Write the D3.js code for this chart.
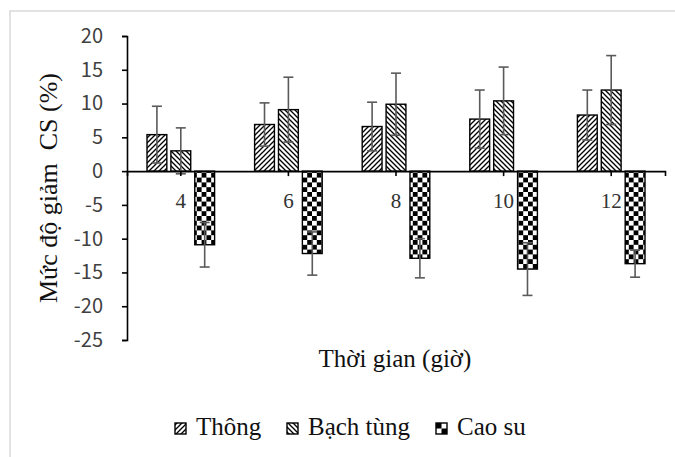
<!DOCTYPE html>
<html>
<head>
<meta charset="utf-8">
<script src="https://cdn.jsdelivr.net/npm/d3@7"></script>
<style>
  html, body { margin: 0; padding: 0; background: #fff; }
  svg { display: block; }
</style>
</head>
<body>
<svg id="chart" width="675" height="457"></svg>
<script>
// ---- data ----
const categories = ["4", "6", "8", "10", "12"];          // Thời gian (giờ)
const seriesNames = ["Thông", "Bạch tùng", "Cao su"];
const thong       = [5.4, 6.9, 6.6, 7.7, 8.3];
const thongErr    = [4.2, 3.2, 3.6, 4.3, 3.7];
const bachTung    = [3.0, 9.1, 9.9, 10.4, 12.0];
const bachTungErr = [3.4, 4.8, 4.6, 5.0, 5.1];
const caoSu       = [-10.9, -12.2, -12.9, -14.5, -13.7];
const caoSuErr    = [3.3, 3.2, 2.9, 3.9, 2.0];
const yTicks      = [-25, -20, -15, -10, -5, 0, 5, 10, 15, 20];

const values = [thong, bachTung, caoSu];
const errors = [thongErr, bachTungErr, caoSuErr];
const fills = ['url(#hatchUp)', 'url(#hatchDown)', 'url(#checker)'];

// rows: one per bar
const rows = [];
seriesNames.forEach((s, si) => {
  categories.forEach((c, ci) => {
    rows.push({ series: s, si: si, cat: c, value: values[si][ci], err: errors[si][ci] });
  });
});

const svg = d3.select('#chart');
const serif = '"Liberation Serif", "Times New Roman", serif';
const sans = '"Noto Sans CJK JP", "Noto Sans", sans-serif';

// ---- patterns ----
const defs = svg.append('defs');
defs.append('pattern')
  .attr('id', 'hatchUp').attr('patternUnits', 'userSpaceOnUse')
  .attr('width', 5).attr('height', 5)
  .call(p => {
    p.append('rect').attr('width', 5).attr('height', 5).attr('fill', '#fff');
    p.append('path').attr('d', 'M-1,1 L1,-1 M0,5 L5,0 M4,6 L6,4')
      .attr('stroke', '#000').attr('stroke-width', 1.3);
  });
defs.append('pattern')
  .attr('id', 'hatchDown').attr('patternUnits', 'userSpaceOnUse')
  .attr('width', 5).attr('height', 5)
  .call(p => {
    p.append('rect').attr('width', 5).attr('height', 5).attr('fill', '#fff');
    p.append('path').attr('d', 'M-1,4 L1,6 M0,0 L5,5 M4,-1 L6,1')
      .attr('stroke', '#000').attr('stroke-width', 1.3);
  });
defs.append('pattern')
  .attr('id', 'checker').attr('patternUnits', 'userSpaceOnUse')
  .attr('width', 9.6).attr('height', 9.6)
  .call(p => {
    p.append('rect').attr('width', 9.6).attr('height', 9.6).attr('fill', '#fff');
    p.append('rect').attr('width', 4.8).attr('height', 4.8).attr('fill', '#000');
    p.append('rect').attr('x', 4.8).attr('y', 4.8).attr('width', 4.8).attr('height', 4.8).attr('fill', '#000');
  });
defs.append('pattern')
  .attr('id', 'checkerSmall').attr('patternUnits', 'userSpaceOnUse')
  .attr('x', 436).attr('y', 423)
  .attr('width', 11).attr('height', 11)
  .call(p => {
    p.append('rect').attr('width', 11).attr('height', 11).attr('fill', '#fff');
    p.append('rect').attr('width', 5.5).attr('height', 5.5).attr('fill', '#000');
    p.append('rect').attr('x', 5.5).attr('y', 5.5).attr('width', 5.5).attr('height', 5.5).attr('fill', '#000');
  });

// chart area border (only top/left visible in the crop)
svg.append('rect')
  .attr('x', 10).attr('y', 11).attr('width', 720).attr('height', 500)
  .attr('fill', 'none').attr('stroke', '#d9d9d9').attr('stroke-width', 1.5);

// ---- scales ----
const x0 = d3.scaleBand().domain(categories).range([127, 665]);
const x1 = d3.scaleBand().domain(seriesNames)
  .range([20, x0.bandwidth() - 20]).paddingInner(0.17);
const y = d3.scaleLinear().domain([-25, 20]).range([340, 36]);

// ---- bars ----
svg.append('g').selectAll('rect')
  .data(rows).enter().append('rect')
  .attr('x', d => x0(d.cat) + x1(d.series))
  .attr('y', d => y(Math.max(0, d.value)))
  .attr('width', x1.bandwidth())
  .attr('height', d => Math.abs(y(d.value) - y(0)))
  .attr('fill', d => fills[d.si])
  .attr('stroke', '#000').attr('stroke-width', 1.4);

// ---- error bars ----
const eb = svg.append('g').attr('stroke', '#5a5a5a').attr('stroke-width', 1.6);
rows.forEach(d => {
  const cx = x0(d.cat) + x1(d.series) + x1.bandwidth() / 2;
  const y1 = y(d.value + d.err), y2 = y(d.value - d.err);
  eb.append('line').attr('x1', cx).attr('x2', cx).attr('y1', y1).attr('y2', y2);
  eb.append('line').attr('x1', cx - 5).attr('x2', cx + 5).attr('y1', y1).attr('y2', y1);
  eb.append('line').attr('x1', cx - 5).attr('x2', cx + 5).attr('y1', y2).attr('y2', y2);
});

// ---- y axis ----
const yAxis = svg.append('g')
  .attr('transform', 'translate(127,0)')
  .call(d3.axisLeft(y).tickValues(yTicks).tickSize(5).tickPadding(19).tickFormat(d3.format('d')));
yAxis.select('.domain').attr('stroke', '#000').attr('stroke-width', 1.6);
yAxis.selectAll('.tick line').attr('stroke', '#000').attr('stroke-width', 1.6);
yAxis.selectAll('.tick text')
  .attr('font-family', sans).attr('font-size', 20).attr('fill', '#404040')
  .text(d => d < 0 ? '-' + Math.abs(d) : d);

// ---- x axis (through zero) ----
const xAxis = svg.append('g')
  .attr('transform', 'translate(0,' + y(0) + ')')
  .call(d3.axisBottom(x0).tickSize(5).tickSizeOuter(5).tickPadding(17));
xAxis.select('.domain').attr('stroke', '#000').attr('stroke-width', 1.6);
xAxis.selectAll('.tick line').attr('stroke', '#000').attr('stroke-width', 1.6);
xAxis.selectAll('.tick text')
  .attr('font-family', serif).attr('font-size', 21).attr('fill', '#333');

// ---- axis titles ----
svg.append('text')
  .attr('transform', 'translate(57,188) rotate(-90)')
  .attr('text-anchor', 'middle')
  .attr('font-family', serif).attr('font-size', 26).attr('fill', '#111')
  .style('white-space', 'pre')
  .text('Mức độ giảm  CS (%)');

svg.append('text')
  .attr('x', 395).attr('y', 367)
  .attr('text-anchor', 'middle')
  .attr('font-family', serif).attr('font-size', 25).attr('fill', '#111')
  .text('Thời gian (giờ)');

// ---- legend ----
const legendX = [175, 287, 436];
const legendFill = ['url(#hatchUp)', 'url(#hatchDown)', 'url(#checkerSmall)'];
const legend = svg.append('g');
seriesNames.forEach((s, i) => {
  legend.append('rect')
    .attr('x', legendX[i]).attr('y', 423).attr('width', 11).attr('height', 11)
    .attr('fill', legendFill[i]).attr('stroke', '#000').attr('stroke-width', 1.4);
  legend.append('text')
    .attr('x', legendX[i] + 21).attr('y', 435)
    .attr('font-family', serif).attr('font-size', 25).attr('fill', '#111')
    .text(s);
});
</script>
</body>
</html>
